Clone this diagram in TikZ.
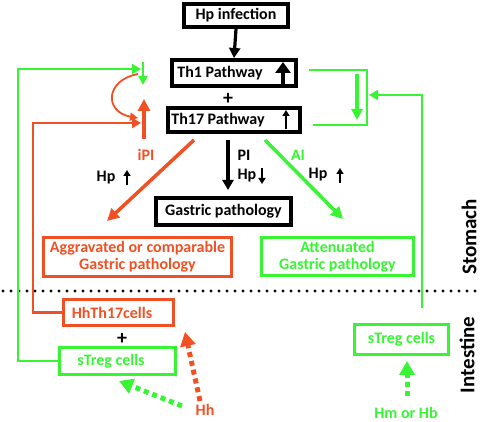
\documentclass[tikz,border=0pt]{standalone}
\usepackage{fontspec}
\setmainfont{Carlito}
\usetikzlibrary{arrows.meta}
\definecolor{org}{RGB}{240,80,35}
\definecolor{grn}{RGB}{55,245,50}
\begin{document}
\begin{tikzpicture}[x=1pt,y=-1pt,
  font=\bfseries\fontsize{16}{17}\selectfont,
  kbox/.style={draw=black,line width=4pt,inner sep=0pt,align=center},
  obox/.style={draw=org,text=org,line width=3.5pt,inner sep=0pt,align=center},
  gbox/.style={draw=grn,text=grn,line width=3.5pt,inner sep=0pt,align=center},
  karrow/.style={draw=black,line width=3.2pt,-{Triangle[length=10pt,width=11pt]}},
  smallup/.style={draw=black,line width=1.8pt,-{Triangle[length=6pt,width=7pt]}},
  gline/.style={draw=grn,line width=2.4pt},
  oline/.style={draw=org,line width=2.4pt},
  dotk/.style={draw=black,line width=3.4pt,line cap=round,dash pattern=on 0pt off 8pt},
  dotted arrow/.style={line width=5pt,dash pattern=on 5pt off 4pt,-{Triangle[length=14pt,width=15pt]}},
  side/.style={font=\bfseries\fontsize{21}{23}\selectfont,rotate=90}]
\useasboundingbox (0,0) rectangle (480,422);

% stomach nodes
\node[kbox,minimum width=104pt,minimum height=23pt] (hp) at (236,15.5) {Hp infection};
\node[kbox,minimum width=124pt,minimum height=26pt] (th1) at (234,73) {Th1 Pathway\hspace{28pt}};
\node (plus1) at (228,99) {\fontsize{20}{20}\selectfont +};
\node[kbox,minimum width=132pt,minimum height=24pt] (th17) at (234,120) {Th17 Pathway\hspace{32pt}};
\node[kbox,minimum width=135pt,minimum height=27pt] (gp) at (223.5,211.5) {Gastric pathology};
\node[obox,minimum width=188pt,minimum height=39pt] (agg) at (137.5,257) {Aggravated or comparable\\Gastric pathology};
\node[gbox,minimum width=152pt,minimum height=38pt] (att) at (337.5,256.5) {Attenuated\\Gastric pathology};
\node[side] (stomach) at (469,237) {Stomach};

% intestine nodes
\node[obox,minimum width=110pt,minimum height=26pt] (hhth17) at (118.5,312.5) {HhTh17cells\hspace{13pt}};
\node (plus2) at (122,339) {\fontsize{20}{20}\selectfont +};
\node[gbox,minimum width=116pt,minimum height=27pt] (stregL) at (117.5,361) {sTreg cells\hspace{13pt}};
\node[gbox,minimum width=94pt,minimum height=30pt] (stregR) at (401.5,339.5) {sTreg cells};
\node[side] (intestine) at (467,355) {Intestine};

% labels
\node[text=org,anchor=center] (ipi) at (146,155) {iPI};
\node[anchor=center] (hp1) at (106,178) {Hp};
\node[anchor=west] (pi) at (234,155) {PI};
\node[anchor=west] (hp2) at (234,176) {Hp};
\node[text=grn,anchor=center] (ai) at (298,155) {AI};
\node[anchor=center] (hp3) at (318,175) {Hp};
\node[text=org] (hh) at (205,410) {Hh};
\node[text=grn] (hmhb) at (406,413) {Hm or Hb};

% small arrows in boxes and labels
\draw[black,line width=4pt,-{Triangle[length=11pt,width=15pt]}] (283,85) -- (283,62);
\draw[smallup] (286,129) -- (286,110);
\draw[smallup] (127,185) -- (127,170);
\draw[smallup] (262,168) -- (262,184);
\draw[smallup] (340,183) -- (340,168);

% black arrows
\draw[karrow] (hp.south) -- (th1.north);
\coordinate (k1) at (228,140);
\coordinate (k2) at (228,190);
\draw[karrow] (k1) -- (k2);

% diagonal arrows
\coordinate (o1) at (194,140);
\coordinate (o2) at (107,221);
\draw[org,line width=3.5pt,-{Triangle[length=12pt,width=12pt]}] (o1) -- (o2);
\coordinate (g1) at (265,140);
\coordinate (g2) at (343,219);
\draw[grn,line width=3.5pt,-{Triangle[length=12pt,width=12pt]}] (g1) -- (g2);

% dotted separator
\draw[dotk] (3,291) -- (480,291);

% left green feedback
\coordinate (gt) at (141,69);
\draw[gline,-{Triangle[length=9pt,width=10pt]}] (stregL.west) -- (18,361) |- (gt);
\coordinate (gd1) at (143,62);
\coordinate (gd2) at (143,85);
\draw[grn,line width=2.2pt,-{Triangle[length=9pt,width=9pt]}] (gd1) -- (gd2);

% left orange feedback
\coordinate (ot) at (141,123);
\draw[oline,-{Triangle[length=9pt,width=10pt]}] (hhth17.west) -- (33,312.5) |- (ot);
\coordinate (ou1) at (144,139);
\coordinate (ou2) at (144,99);
\draw[org,line width=4.5pt,-{Triangle[length=12pt,width=12pt]}] (ou1) -- (ou2);
\coordinate (oc1) at (138,74);
\coordinate (oc2) at (138,118);
\draw[org,line width=1.8pt,-{Triangle[length=8pt,width=8pt]}] (oc1) .. controls (105,80) and (104,112) .. (oc2);

% right green bracket
\coordinate (rb1) at (309,70);
\coordinate (rb2) at (313,125);
\draw[gline] (rb1) -- (367,70) -- (367,125) -- (rb2);
\coordinate (rd1) at (357,74);
\coordinate (rd2) at (357,120);
\draw[grn,line width=3.5pt,-{Triangle[length=11pt,width=11pt]}] (rd1) -- (rd2);
\coordinate (rf1) at (422,308);
\coordinate (rf2) at (369,95);
\draw[gline,-{Triangle[length=9pt,width=10pt]}] (rf1) -- (422,95) -- (rf2);

% dotted inducer arrows
\coordinate (hhs) at (200,401);
\coordinate (hht) at (185,332);
\draw[org,dotted arrow] (hhs) -- (hht);
\coordinate (ggs) at (182,406);
\coordinate (ggt) at (119,381);
\draw[grn,dotted arrow] (ggs) -- (ggt);
\coordinate (hms) at (407,396);
\coordinate (hmt) at (407,361);
\draw[grn,dotted arrow] (hms) -- (hmt);
\end{tikzpicture}
\end{document}
